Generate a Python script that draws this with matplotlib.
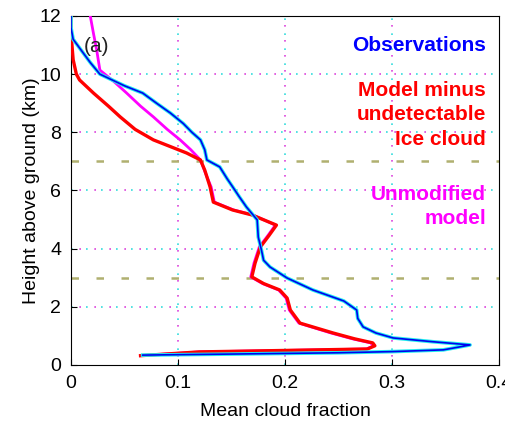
import matplotlib
matplotlib.use('Agg')
import matplotlib.pyplot as plt

# Observations (blue)
obs_height = [12.0, 11.6, 11.2, 10.8, 10.4, 10.0, 9.6, 9.35, 9.0, 8.66, 8.3, 8.0,
              7.74, 7.4, 7.05, 6.81, 6.4, 6.13, 5.8, 5.43, 4.99, 4.4, 3.95, 3.6,
              3.37, 2.99, 2.58, 2.2, 1.89, 1.6, 1.31, 1.1, 0.93, 0.8, 0.69, 0.6,
              0.52, 0.46, 0.42, 0.38, 0.34]
obs_frac = [0.0, 0.0, 0.002, 0.01, 0.018, 0.027, 0.05, 0.067, 0.08, 0.093, 0.105, 0.113,
            0.121, 0.125, 0.127, 0.139, 0.146, 0.151, 0.157, 0.164, 0.174, 0.175, 0.178, 0.18,
            0.186, 0.202, 0.226, 0.255, 0.267, 0.268, 0.273, 0.285, 0.301, 0.338, 0.373, 0.36,
            0.348, 0.3, 0.25, 0.16, 0.067]

# Model minus undetectable ice cloud (red)
red_height = [12.0, 11.4, 10.5, 10.0, 9.8, 9.35, 8.9, 8.53, 8.1, 7.74, 7.29, 7.05,
              6.7, 6.47, 6.12, 5.6, 5.33, 5.16, 4.81, 4.45, 4.06, 3.5, 3.03, 2.8,
              2.58, 2.3, 1.89, 1.44, 1.1, 0.9, 0.76, 0.66, 0.55, 0.5, 0.45, 0.38, 0.32]
red_frac = [0.0, 0.0, 0.002, 0.005, 0.008, 0.021, 0.035, 0.046, 0.06, 0.077, 0.108, 0.121,
            0.125, 0.127, 0.130, 0.133, 0.151, 0.169, 0.192, 0.185, 0.177, 0.172, 0.169, 0.18,
            0.195, 0.202, 0.205, 0.214, 0.245, 0.265, 0.282, 0.284, 0.277, 0.2, 0.12, 0.09, 0.065]

# Unmodified model (magenta)
mag_height = [12.0, 11.4, 10.83, 10.14, 9.75, 9.35, 8.9, 8.53, 8.1, 7.74, 7.4, 7.05,
              6.47, 6.12, 5.6, 5.33, 5.16, 4.81, 4.45, 4.06, 3.5, 3.03, 2.8, 2.58,
              2.3, 1.89, 1.44, 1.1, 0.9, 0.76, 0.66, 0.55, 0.5, 0.45, 0.38, 0.32]
mag_frac = [0.018, 0.021, 0.024, 0.027, 0.04, 0.052, 0.065, 0.077, 0.09, 0.102, 0.112, 0.121,
            0.127, 0.131, 0.134, 0.152, 0.170, 0.191, 0.184, 0.176, 0.171, 0.168, 0.179, 0.194,
            0.201, 0.204, 0.213, 0.243, 0.263, 0.28, 0.283, 0.276, 0.2, 0.12, 0.09, 0.065]

x_ticks = [0, 0.1, 0.2, 0.3, 0.4]
x_labels = ['0', '0.1', '0.2', '0.3', '0.4']
y_ticks = [0, 2, 4, 6, 8, 10, 12]
dotted_y = [2, 4, 6, 8, 10]
dashed_y = [3, 7]
dotted_x = [0.1, 0.2, 0.3]

plt.rcParams['font.family'] = ['Liberation Sans', 'DejaVu Sans']

fig = plt.figure(figsize=(5.05, 4.22), dpi=100)
ax = fig.add_axes([0.1406, 0.1351, 0.8475, 0.827])
ax.set_xlim(0, 0.4)
ax.set_ylim(0, 12)

# grid, dotted with mixed colours
for y in dotted_y:
    ax.axhline(y, color='#33dddd', lw=1.2, ls=(0, (1, 8)), zorder=1)
    ax.axhline(y, color='#dd44dd', lw=1.2, ls=(4, (1, 8)), zorder=1)
for x in dotted_x:
    ax.axvline(x, color='#33dddd', lw=1.2, ls=(0, (1, 8)), zorder=1)
    ax.axvline(x, color='#dd44dd', lw=1.2, ls=(4, (1, 8)), zorder=1)
for y in dashed_y:
    ax.axhline(y, color='#b0b070', lw=1.8, ls=(0, (3, 7)), zorder=1)

ax.plot(mag_frac, mag_height, color='#ff00ff', lw=2.0, zorder=3)
ax.plot(red_frac, red_height, color='#ff0000', lw=2.4, zorder=4)
ax.plot(obs_frac, obs_height, color='#22eeee', lw=2.6, zorder=5)
ax.plot(obs_frac, obs_height, color='#0000ee', lw=1.2, zorder=6)

ax.set_xticks(x_ticks)
ax.set_xticklabels(x_labels)
ax.set_yticks(y_ticks)
ax.tick_params(direction='in', length=4, labelsize=14, pad=7)
ax.set_xlabel('Mean cloud fraction', fontsize=14, labelpad=8)
ax.set_ylabel('Height above ground (km)', fontsize=14, labelpad=0)

ax.text(0.024, 10.94, '(a)', fontsize=15, color='#222222', ha='center', va='center')

lab = dict(fontsize=15, fontweight='bold', ha='right', va='center', linespacing=1.35)
ax.text(0.388, 11.0, 'Observations', color='#0000ff', **lab)
ax.text(0.388, 8.6, 'Model minus\nundetectable\nIce cloud', color='#ff0000', **lab)
ax.text(0.388, 5.45, 'Unmodified\nmodel', color='#ff00ff', **lab)

fig.savefig('out.png', dpi=100)
